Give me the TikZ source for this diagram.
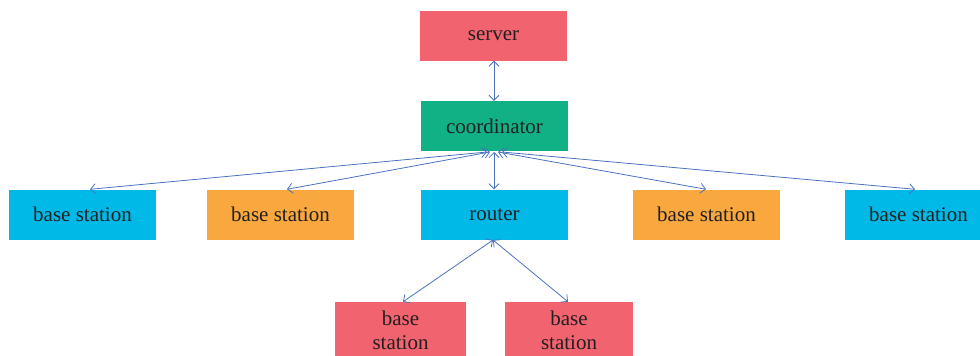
\documentclass[tikz,border=0pt]{standalone}
\usepackage{fontspec}
\setmainfont{Liberation Serif}
\usetikzlibrary{arrows.meta}
\definecolor{boxred}{HTML}{F0636F}
\definecolor{boxgreen}{HTML}{12B085}
\definecolor{boxcyan}{HTML}{00B9E7}
\definecolor{boxorange}{HTML}{F8A83F}
\definecolor{linkblue}{HTML}{4A72C0}
\definecolor{labeltext}{HTML}{231F20}
\tikzset{
  unit/.style={rectangle, inner sep=0pt, minimum width=147pt, minimum height=50pt,
    text=labeltext, font=\fontsize{21}{24}\selectfont, align=center},
  redbox/.style={unit, fill=boxred},
  greenbox/.style={unit, fill=boxgreen},
  cyanbox/.style={unit, fill=boxcyan},
  orangebox/.style={unit, fill=boxorange},
  link/.style={draw=linkblue, line width=0.8pt, {Straight Barb[length=5pt,width=10pt]}-{Straight Barb[length=5pt,width=10pt]}}
}
\begin{document}
\begin{tikzpicture}[x=1pt, y=-1pt]
\useasboundingbox (0,0) rectangle (980,356);
\begin{scope}
\clip (0,0) rectangle (980,356);
% top tier
\node[redbox] (server) at (493.5,35.5) {server};
\node[greenbox] (coord) at (494.5,126) {coordinator};
% middle tier
\node[cyanbox] (bs1) at (82.5,214.5) {base station};
\node[orangebox] (bs2) at (280.5,214.5) {base station};
\node[cyanbox] (router) at (494.5,214.5) {router};
\node[orangebox] (bs3) at (706.5,214.5) {base station};
\node[cyanbox] (bs4) at (918.5,214.5) {base station};
% bottom tier
\node[redbox, minimum width=131pt, minimum height=56pt] (bs5) at (400.5,330) {base\\station};
\node[redbox, minimum width=128pt, minimum height=56pt] (bs6) at (569,330) {base\\station};
\end{scope}
% links
\coordinate (c1) at (487,152);
\coordinate (c2) at (490,152);
\coordinate (c3) at (494,152);
\coordinate (c4) at (498,152);
\coordinate (c5) at (502,152);
\draw[link] (server.south -| c3) -- (coord.north -| c3);
\draw[link] (c1) -- (bs1.north -| 90,0);
\draw[link] (c2) -- (bs2.north -| 287,0);
\draw[link] (c3) -- (router.north -| c3);
\draw[link] (c4) -- (bs3.north -| 706,0);
\draw[link] (c5) -- (bs4.north -| 915,0);
\coordinate (r) at (493,240);
\draw[link] (r) -- (bs5.north -| 403,0);
\draw[link] (r) -- (bs6.north -| 568,0);
\end{tikzpicture}
\end{document}
